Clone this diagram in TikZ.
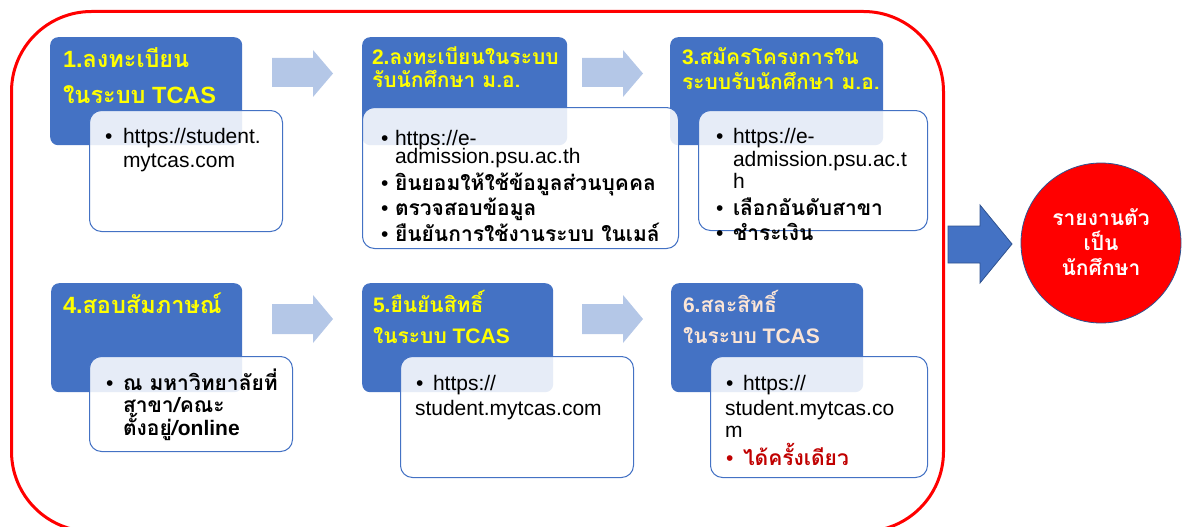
\documentclass[tikz,border=0pt]{standalone}
\usepackage{fontspec}
\setmainfont{Liberation Sans}
\newfontfamily\thai[Script=Thai]{Loma}
\definecolor{cblue}{HTML}{4472C4}
\definecolor{cdark}{HTML}{2F528F}
\definecolor{clight}{HTML}{B4C7E7}
\definecolor{cyel}{HTML}{FFFF00}
\definecolor{cpeach}{HTML}{FBE5D6}
\definecolor{cdred}{HTML}{C00000}
\definecolor{cred}{HTML}{FF0000}
\tikzset{
  frame/.style={draw=cred, line width=3pt, rounded corners=80pt, anchor=north west, inner sep=0pt},
  hbox/.style={fill=cblue, rounded corners=8pt, anchor=north west, inner sep=0pt},
  wbox/.style={draw=cblue, line width=1pt, fill=white, fill opacity=0.87, rounded corners=12pt, anchor=north west, inner sep=0pt},
  ln/.style={anchor=base west, inner sep=0pt, outer sep=0pt},
  headA/.style={ln, text=cyel, font=\fontsize{23.5pt}{28pt}\selectfont\bfseries},
  headB/.style={ln, text=cyel, font=\fontsize{21pt}{25pt}\selectfont\bfseries},
  txt/.style={ln, font=\fontsize{21pt}{25pt}\selectfont},
  btxt/.style={ln, font=\fontsize{21pt}{25pt}\selectfont\bfseries},
  larrow/.style={fill=clight, draw=none},
  barrow/.style={fill=cblue, draw=cdark, line width=0.8pt},
  goal/.style={circle, fill=cred, draw=cdark, line width=0.8pt, minimum size=160pt, inner sep=0pt},
  gtxt/.style={anchor=base, inner sep=0pt, text=white, font=\fontsize{21pt}{25pt}\selectfont\bfseries\thai},
}
\begin{document}
\begin{tikzpicture}[x=1pt,y=-1pt]
\useasboundingbox (0,0) rectangle (1184,527);
% frame
\node[frame, minimum width=932pt, minimum height=520pt] (frame) at (10,10) {};
% blue header boxes
\node[hbox, minimum width=192pt, minimum height=108pt] (h1) at (50,37) {};
\node[hbox, minimum width=205pt, minimum height=108pt] (h2) at (362,37) {};
\node[hbox, minimum width=213pt, minimum height=108pt] (h3) at (670,37) {};
\node[hbox, minimum width=191pt, minimum height=109pt] (h4) at (51,283) {};
\node[hbox, minimum width=191pt, minimum height=109pt] (h5) at (362,283) {};
\node[hbox, minimum width=192pt, minimum height=109pt] (h6) at (671,283) {};
% white boxes
\node[wbox, minimum width=193pt, minimum height=121pt] (w1) at (89,110) {};
\node[wbox, minimum width=316pt, minimum height=141pt] (w2) at (362,107) {};
\node[wbox, minimum width=229pt, minimum height=120pt] (w3) at (698,110) {};
\node[wbox, minimum width=203pt, minimum height=95pt] (w4) at (89,356) {};
\node[wbox, minimum width=233pt, minimum height=121pt] (w5) at (400,356) {};
\node[wbox, minimum width=217pt, minimum height=121pt] (w6) at (710,356) {};
% light arrows
\fill[larrow] (272,58) -- (313,58) -- (313,50) -- (333,73.5) -- (313,97) -- (313,87) -- (272,87) -- cycle;
\fill[larrow] (582,58) -- (623,58) -- (623,50) -- (643,73.5) -- (623,97) -- (623,87) -- (582,87) -- cycle;
\fill[larrow] (272,304) -- (313,304) -- (313,295) -- (333,319) -- (313,343) -- (313,334) -- (272,334) -- cycle;
\fill[larrow] (582,304) -- (623,304) -- (623,295) -- (643,319) -- (623,343) -- (623,334) -- (582,334) -- cycle;
% big arrow
\draw[barrow] (948,226) -- (980,226) -- (980,205) -- (1012,244) -- (980,283) -- (980,263) -- (948,263) -- cycle;
% goal circle
\node[goal] (goal) at (1101,243) {};
\node[gtxt] (g1) at (1101,225) {รายงานตัว};
\node[gtxt] (g2) at (1101,250) {เป็น};
\node[gtxt] (g3) at (1101,275) {นักศึกษา};
% box 1
\node[headA] (t1a) at (63,68) {1.{\thai ลงทะเบียน}};
\node[headA] (t1b) at (63,103) {{\thai ในระบบ} TCAS};
\node[txt] (b1a) at (105,143) {•};
\node[txt] (l1a) at (123,143) {https://student.};
\node[txt] (l1b) at (123,167) {mytcas.com};
% box 2
\node[headB] (t2a) at (372,65) {2.{\thai ลงทะเบียนในระบบ}};
\node[headB] (t2b) at (372,88) {{\thai รับนักศึกษา ม.อ.}};
\node[txt] (b2a) at (381,145) {•};
\node[txt] (l2a) at (395,145) {https://e-};
\node[txt] (l2b) at (395,163) {admission.psu.ac.th};
\node[txt] (b2b) at (381,190) {•};
\node[btxt] (l2c) at (395,190) {\thai ยินยอมให้ใช้ข้อมูลส่วนบุคคล};
\node[txt] (b2c) at (381,215) {•};
\node[btxt] (l2d) at (395,215) {\thai ตรวจสอบข้อมูล};
\node[txt] (b2d) at (381,241) {•};
\node[btxt] (l2e) at (395,241) {\thai ยืนยันการใช้งานระบบ ในเมล์};
% box 3
\node[headB] (t3a) at (682,65) {3.{\thai สมัครโครงการใน}};
\node[headB] (t3b) at (682,89) {{\thai ระบบรับนักศึกษา ม.อ.}};
\node[txt] (b3a) at (716,143) {•};
\node[txt] (l3a) at (733,143) {https://e-};
\node[txt] (l3b) at (733,166) {admission.psu.ac.t};
\node[txt] (l3c) at (733,188) {h};
\node[txt] (b3b) at (716,215) {•};
\node[btxt] (l3d) at (733,215) {\thai เลือกอันดับสาขา};
\node[txt] (b3c) at (716,240) {•};
\node[btxt] (l3e) at (733,240) {\thai ชำระเงิน};
% box 4
\node[headA] (t4a) at (63,313) {4.{\thai สอบสัมภาษณ์}};
\node[txt] (b4a) at (106,390) {•};
\node[btxt] (l4a) at (123,390) {\thai ณ มหาวิทยาลัยที่};
\node[btxt] (l4b) at (123,412) {\thai สาขา/คณะ};
\node[btxt] (l4c) at (123,435) {{\thai ตั้งอยู่/}online};
% box 5
\node[headB] (t5a) at (373,312) {5.{\thai ยืนยันสิทธิ์}};
\node[headB] (t5b) at (373,343) {{\thai ในระบบ} TCAS};
\node[txt] (b5a) at (416,390) {•};
\node[txt] (l5a) at (433,390) {https://};
\node[txt] (l5b) at (415,415) {student.mytcas.com};
% box 6
\node[headB, text=cpeach] (t6a) at (683,312) {6.{\thai สละสิทธิ์}};
\node[headB, text=cpeach] (t6b) at (683,343) {{\thai ในระบบ} TCAS};
\node[txt] (b6a) at (726,390) {•};
\node[txt] (l6a) at (743,390) {https://};
\node[txt] (l6b) at (725,415) {student.mytcas.co};
\node[txt] (l6c) at (725,437) {m};
\node[txt, text=cdred] (b6b) at (726,465) {•};
\node[btxt, text=cdred] (l6d) at (743,465) {\thai ได้ครั้งเดียว};
\end{tikzpicture}
\end{document}
